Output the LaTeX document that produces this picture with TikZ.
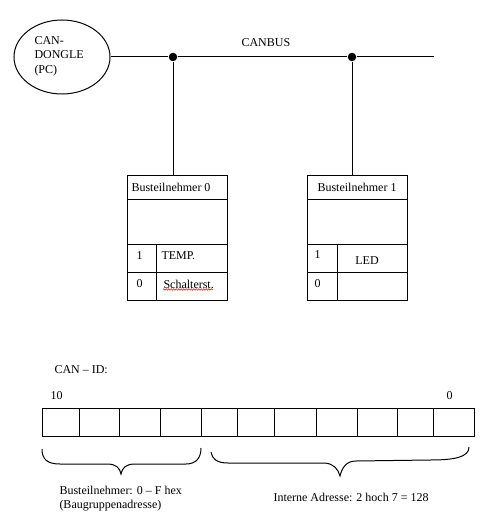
\documentclass[tikz,border=0pt]{standalone}
\usepackage{fontspec}
\setmainfont{Liberation Serif}
\usetikzlibrary{shapes.geometric,decorations.pathmorphing}
\begin{document}
\begin{tikzpicture}[x=1pt,y=-1pt,line width=1pt,
  txt/.style={inner sep=0pt,anchor=west,font=\fontsize{12}{14.5}\selectfont},
  ctxt/.style={inner sep=0pt,font=\fontsize{12}{14.5}\selectfont},
  box/.style={draw,minimum width=100pt,minimum height=125pt,anchor=north west,inner sep=0pt},
  dot/.style={circle,fill=black,inner sep=0pt,minimum size=8.5pt},
  brace/.style={line width=1pt}]
\useasboundingbox (0,0) rectangle (490,524);
% dongle
\node[draw,ellipse,minimum width=96pt,minimum height=74pt,inner sep=0pt] (dongle) at (62,57) {};
\node[txt,align=left] (dtxt) at (34,56) {CAN-\\DONGLE\\(PC)};
% bus
\coordinate (busR) at (434,57);
\node[dot] (j0) at (173,57) {};
\node[dot] (j1) at (352,57) {};
\draw (dongle.east) -- (j0) -- (j1) -- (busR);
\node[txt] (canbus) at (241,43) {CANBUS};
% box 0
\node[box] (b0) at (127,175) {};
\draw (j0) -- (j0 |- b0.north);
\draw (127,199) -- (227,199) (127,244) -- (227,244) (127,272) -- (227,272) (156,244) -- (156,300);
\node[txt] (b0h) at (131,187) {Busteilnehmer 0};
\node[txt] (b0r1) at (136,256) {1};
\node[txt] (b0t1) at (161,256) {TEMP.};
\node[txt] (b0r0) at (136,284) {0};
\node[txt] (b0t0) at (163,284) {Schalterst.};
\draw[red,line width=0.5pt,decorate,decoration={snake,amplitude=0.8pt,segment length=2.5pt}] (163,289.5) -- (213,289.5);
% box 1
\node[box] (b1) at (307,175) {};
\draw (j1) -- (j1 |- b1.north);
\draw (307,199) -- (407,199) (307,244) -- (407,244) (307,272) -- (407,272) (337,244) -- (337,300);
\node[ctxt] (b1h) at (357,187) {Busteilnehmer 1};
\node[txt] (b1r1) at (314,255) {1};
\node[ctxt] (b1t1) at (367,261) {LED};
\node[txt] (b1r0) at (314,284) {0};
% CAN-ID
\node[txt] (canid) at (54,370) {CAN – ID:};
\node[txt] (bit10) at (50,396) {10};
\node[txt] (bit0) at (446,396) {0};
\node[draw,anchor=north west,minimum width=432pt,minimum height=28pt,inner sep=0pt] (reg) at (42,408) {};
\foreach \x in {79,119,160,201,237,274,316,357,397,433}
  \draw (\x,408) -- (\x,436);
% braces
\draw[brace] (42,449) .. controls (42,459) and (47,464) .. (60,464) -- (107,464)
  .. controls (116,464) and (120,468) .. (121,474)
  .. controls (122,468) and (126,464) .. (135,464) -- (186,464)
  .. controls (196,464) and (201,458) .. (201,448);
\draw[brace] (211,452) .. controls (212,459) and (217,463) .. (228,463) -- (325,463)
  .. controls (334,464) and (338,469) .. (340,476)
  .. controls (342,468) and (346,461) .. (356,461) -- (430,460)
  .. controls (455,460) and (469,457) .. (469,447);
\node[txt,align=left] (bt) at (59,498.5) {Busteilnehmer: 0 – F hex\\(Baugruppenadresse)};
\node[txt] (ia) at (273,497) {Interne Adresse: 2 hoch 7 = 128};
\end{tikzpicture}
\end{document}
